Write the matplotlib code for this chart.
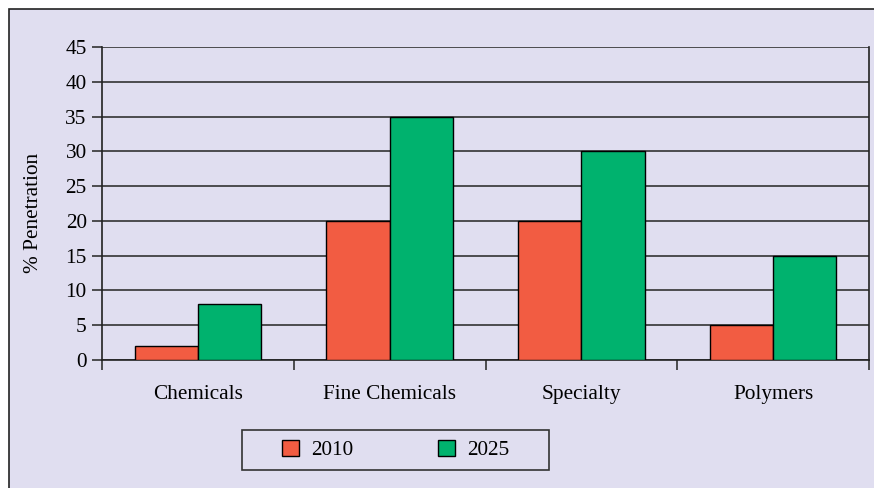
import matplotlib
matplotlib.use("Agg")
import matplotlib.pyplot as plt
import numpy as np
from matplotlib.patches import Rectangle

categories = ["Chemicals", "Fine Chemicals", "Specialty", "Polymers"]
series_names = ["2010", "2025"]
values_2010 = [2, 20, 20, 5]
values_2025 = [8, 35, 30, 15]
yticks = [0, 5, 10, 15, 20, 25, 30, 35, 40, 45]

bg = "#E0DEF0"
red = "#F25C42"
green = "#00B26E"
fs = 15.3

plt.rcParams['font.family'] = ['Liberation Serif', 'DejaVu Serif']

fig = plt.figure(figsize=(8.74, 4.88), dpi=100)
fig.patch.set_facecolor("white")
W, H = 874, 488
fig.patches.append(Rectangle((9 / W, -0.05), 1.0, (H - 9) / H + 0.05,
                             transform=fig.transFigure, facecolor=bg,
                             edgecolor="#222222", linewidth=1.2, zorder=-10))
# legend frame
fig.patches.append(Rectangle((242 / W, 1 - 470 / H), (549 - 242) / W, 40 / H,
                             transform=fig.transFigure, facecolor=bg,
                             edgecolor="#333333", linewidth=1.2, zorder=-5))

ax = fig.add_axes([102 / W, 1 - 360 / H, (869 - 102) / W, (360 - 47) / H])
ax.set_facecolor(bg)
ax.set_zorder(2)

x = np.arange(len(categories))
bw = 0.33
ax.bar(x - bw / 2, values_2010, bw, color=red, edgecolor="black", linewidth=1.0,
       label=series_names[0], zorder=3)
ax.bar(x + bw / 2, values_2025, bw, color=green, edgecolor="black", linewidth=1.0,
       label=series_names[1], zorder=3)

ax.set_xlim(-0.5, len(categories) - 0.5)
ax.set_ylim(0, 45)
ax.set_yticks(yticks)
ax.set_yticklabels([str(v) for v in yticks], fontsize=fs)
ax.yaxis.grid(True, color="#333333", linewidth=1.2, zorder=1)
ax.set_axisbelow(True)

ax.set_xticks(x)
ax.set_xticklabels(categories, fontsize=fs)
ax.tick_params(axis='x', length=0, pad=18)
ax.set_xticks(np.arange(len(categories) + 1) - 0.5, minor=True)
ax.tick_params(axis='x', which='minor', length=7, width=1.2, color="#333333")
ax.tick_params(axis='y', length=7, width=1.2, color="#333333", pad=4)

for s in ["left", "right", "bottom"]:
    ax.spines[s].set_color("#222222")
    ax.spines[s].set_linewidth(1.2)
ax.spines["top"].set_visible(False)

ax.set_ylabel("% Penetration", fontsize=fs)
ax.yaxis.set_label_coords((43 - 102) / 767, (360 - 213) / 313)

leg = fig.legend(loc="center", bbox_to_anchor=((242 + 549) / 2 / W, 1 - 450 / H),
                 ncol=2, fontsize=fs, frameon=False,
                 handlelength=0.8, handleheight=0.8, borderaxespad=0, columnspacing=4.0,
                 handletextpad=0.55)
leg.set_zorder(5)

fig.savefig("out.png", dpi=100, facecolor=fig.get_facecolor())
